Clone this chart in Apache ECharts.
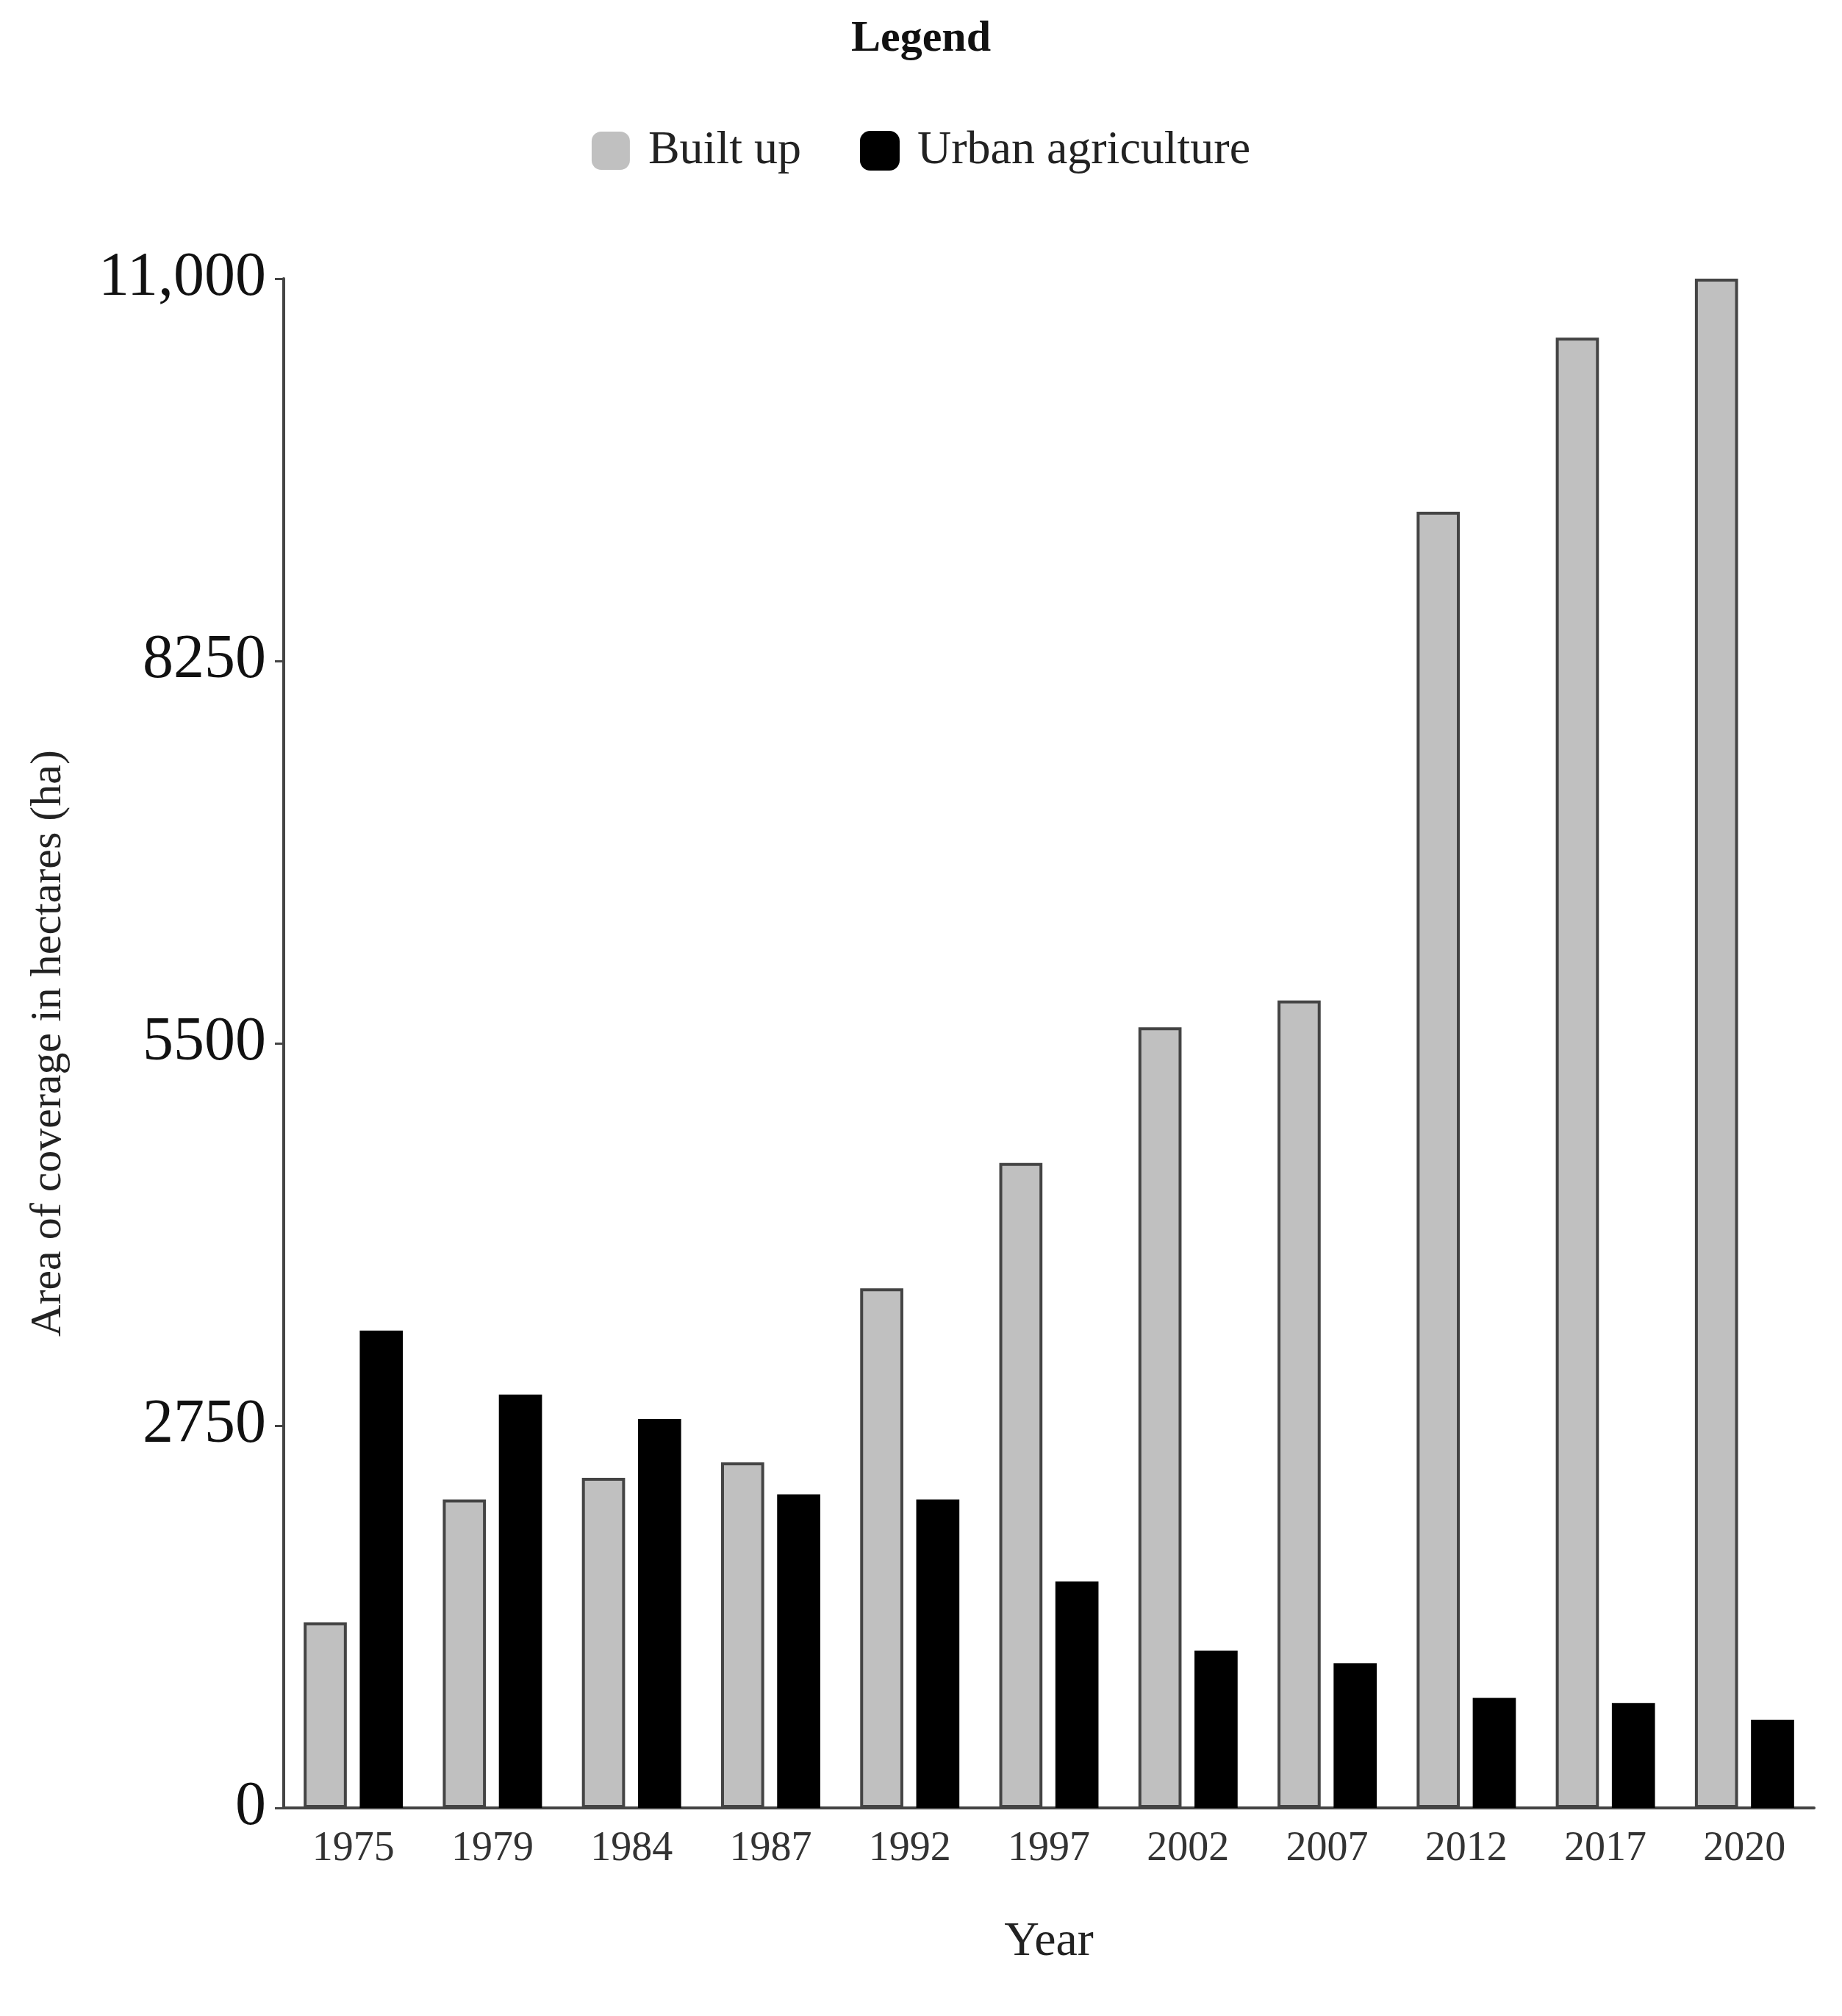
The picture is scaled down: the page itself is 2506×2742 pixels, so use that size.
<!DOCTYPE html>
<html><head><meta charset="utf-8">
<script src="https://cdn.jsdelivr.net/npm/echarts@6/dist/echarts.min.js"></script>
<style>html,body{margin:0;padding:0;background:#fff}#c{width:2506px;height:2742px}</style>
</head><body><div id="c"></div>
<script>
const years = ['1975','1979','1984','1987','1992','1997','2002','2007','2012','2017','2020'];
const builtUp = [1335,2218,2375,2485,3737,4639,5615,5808,9324,10576,11000];
const urbanAg = [3433,2973,2798,2255,2218,1629,1132,1040,792,755,635];
const yTicks = [0,2750,5500,8250,11000];
const F = '"Liberation Serif", "DejaVu Serif", serif';
const chart = echarts.init(document.getElementById('c'));
chart.setOption({
  backgroundColor:'#fff',
  animation:false,
  title:{text:'Legend',left:'center',top:18,textStyle:{fontFamily:F,fontSize:60,fontWeight:'bold',color:'#111'}},
  legend:{top:168,left:'center',itemWidth:52,itemHeight:52,itemGap:80,
    textStyle:{fontFamily:F,fontSize:64,color:'#222',padding:[0,0,0,20]},
    data:[{name:'Built up',itemStyle:{color:'#c0c0c0',borderWidth:0}},{name:'Urban agriculture',itemStyle:{color:'#000'}}]},
  grid:{left:386,right:38,top:379,bottom:283,containLabel:false},
  xAxis:{type:'category',data:years,name:'Year',nameLocation:'middle',nameGap:150,
    nameTextStyle:{fontFamily:F,fontSize:66,color:'#222'},
    axisLine:{lineStyle:{color:'#444',width:4}},axisTick:{alignWithLabel:true,length:12,lineStyle:{color:'#444',width:3},interval:0},
    axisLabel:{fontFamily:F,fontSize:56,color:'#333',margin:28,interval:0}},
  yAxis:{type:'value',min:0,max:11000,interval:2750,name:'Area of coverage in hectares (ha)',nameLocation:'middle',nameGap:290,
    nameTextStyle:{fontFamily:F,fontSize:60,color:'#222'},
    splitLine:{show:false},axisLine:{show:true,lineStyle:{color:'#444',width:4}},
    axisTick:{show:true,length:12,lineStyle:{color:'#444',width:3}},
    axisLabel:{fontFamily:F,fontSize:84,color:'#111',margin:24,formatter:v=>v===11000?'11,000':String(v)}},
  series:[
    {name:'Built up',type:'bar',data:builtUp,barWidth:'31%',barGap:'30%',itemStyle:{color:'#c0c0c0',borderColor:'#444',borderWidth:4}},
    {name:'Urban agriculture',type:'bar',data:urbanAg,barWidth:'31%',itemStyle:{color:'#000',borderColor:'#000',borderWidth:2}}
  ]
});
</script></body></html>
